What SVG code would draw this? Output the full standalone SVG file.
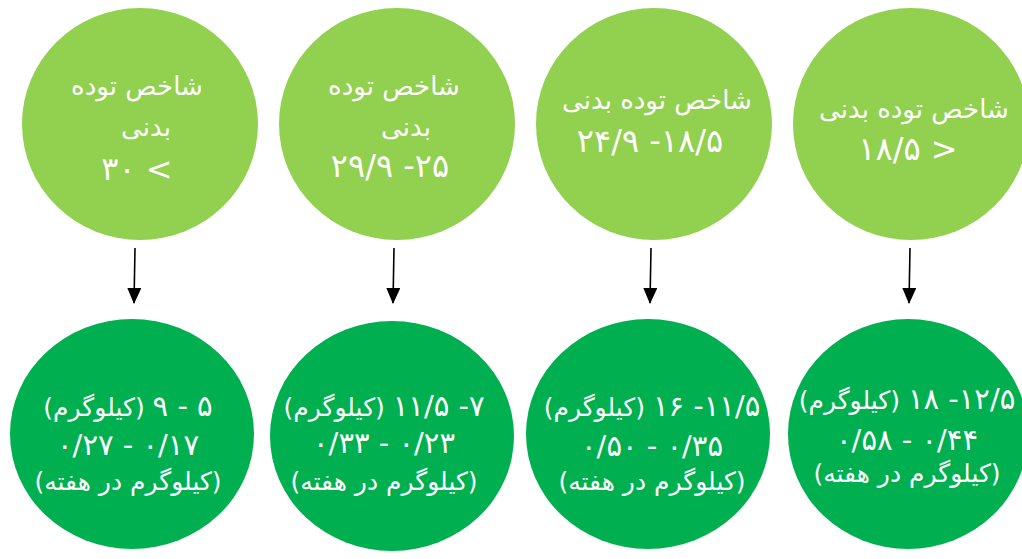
<svg xmlns="http://www.w3.org/2000/svg" width="1022" height="559" viewBox="0 0 1022 559">
  <defs>
    <style>
      .top { fill: #92D050; }
      .bot { fill: #00B050; }
      text { fill: #FFFFFF; font-family: "DejaVu Sans", "Liberation Sans", sans-serif; text-anchor: middle; direction: rtl; unicode-bidi: embed; }
      .w { font-size: 26px; }
      .n { font-size: 32px; }
      .b { font-size: 25px; }
      .d { font-size: 29px; }
      .arrow { stroke: #000000; stroke-width: 1.6; fill: none; }
    </style>
    <marker id="ah" markerWidth="16" markerHeight="14" refX="15" refY="7" orient="auto" markerUnits="userSpaceOnUse" viewBox="0 0 16 14">
      <path d="M0,0 L16,7 L0,14 z" fill="#000000"/>
    </marker>
  </defs>
  <rect x="0" y="0" width="1022" height="559" fill="#FFFFFF"/>

  <g id="bmi-over30">
    <ellipse class="top" cx="140" cy="124" rx="118" ry="116"/>
    <text class="w" x="137" y="95">شاخص توده</text>
    <text class="w" x="146" y="136">بدنی</text>
    <text class="n" x="137" y="180">&gt; ۳۰</text>
  </g>
  <g id="bmi-25-29">
    <ellipse class="top" cx="397" cy="124" rx="118" ry="116"/>
    <text class="w" x="394" y="95">شاخص توده</text>
    <text class="w" x="406" y="136">بدنی</text>
    <text class="n" x="390" y="177">۲۵- ۲۹/۹</text>
  </g>
  <g id="bmi-18-24">
    <ellipse class="top" cx="654" cy="124" rx="118" ry="116"/>
    <text class="w" x="657" y="109">شاخص توده بدنی</text>
    <text class="n" x="650" y="152">۱۸/۵- ۲۴/۹</text>
  </g>
  <g id="bmi-under18">
    <ellipse class="top" cx="911" cy="124" rx="118" ry="116"/>
    <text class="w" x="914" y="118">شاخص توده بدنی</text>
    <text class="n" x="908" y="160">&lt; ۱۸/۵</text>
  </g>

  <g id="gain-5-9">
    <ellipse class="bot" cx="132" cy="434" rx="122" ry="115"/>
    <text class="b" x="128" y="416"><tspan class="d">۵ - ۹</tspan> (کیلوگرم)</text>
    <text class="b d" x="128" y="455">۰/۱۷ - ۰/۲۷</text>
    <text class="b" x="128" y="490">(کیلوگرم در هفته)</text>
  </g>
  <g id="gain-7-11">
    <ellipse class="bot" cx="392" cy="436" rx="122" ry="115"/>
    <text class="b" x="384" y="416"><tspan class="d">۷- ۱۱/۵</tspan> (کیلوگرم)</text>
    <text class="b d" x="384" y="453">۰/۲۳ - ۰/۳۳</text>
    <text class="b" x="384" y="490">(کیلوگرم در هفته)</text>
  </g>
  <g id="gain-11-16">
    <ellipse class="bot" cx="648" cy="434" rx="122" ry="115"/>
    <text class="b" x="652" y="416"><tspan class="d">۱۱/۵- ۱۶</tspan> (کیلوگرم)</text>
    <text class="b d" x="652" y="456">۰/۳۵ - ۰/۵۰</text>
    <text class="b" x="652" y="490">(کیلوگرم در هفته)</text>
  </g>
  <g id="gain-12-18">
    <ellipse class="bot" cx="908" cy="434" rx="120" ry="115"/>
    <text class="b" x="907" y="409"><tspan class="d">۱۲/۵- ۱۸</tspan> (کیلوگرم)</text>
    <text class="b d" x="907" y="450">۰/۴۴ - ۰/۵۸</text>
    <text class="b" x="907" y="482">(کیلوگرم در هفته)</text>
  </g>

  <g id="connectors">
    <line class="arrow" x1="135" y1="248" x2="134" y2="303" marker-end="url(#ah)"/>
    <line class="arrow" x1="394" y1="248" x2="393" y2="303" marker-end="url(#ah)"/>
    <line class="arrow" x1="651" y1="248" x2="650" y2="303" marker-end="url(#ah)"/>
    <line class="arrow" x1="910" y1="248" x2="909" y2="303" marker-end="url(#ah)"/>
  </g>
</svg>
